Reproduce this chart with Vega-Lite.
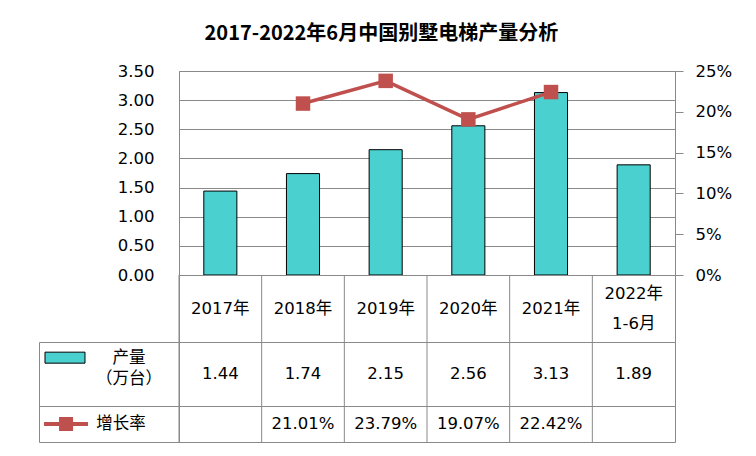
{
  "$schema": "https://vega.github.io/schema/vega-lite/v6.json",
  "padding": {"left": 38, "top": 23, "right": 10, "bottom": 10},
  "background": "white",
  "title": {"text": "2017-2022年6月中国别墅电梯产量分析", "font": "Noto Sans CJK SC", "fontSize": 20, "fontWeight": "bold", "color": "black", "anchor": "middle", "offset": 19, "dx": -4},
  "datasets": {
    "d": [
      {"year": "2017年", "output": 1.44, "growth": null},
      {"year": "2018年", "output": 1.74, "growth": 0.2101},
      {"year": "2019年", "output": 2.15, "growth": 0.2379},
      {"year": "2020年", "output": 2.56, "growth": 0.1907},
      {"year": "2021年", "output": 3.13, "growth": 0.2242},
      {"year": "2022年\n1-6月", "output": 1.89, "growth": null}
    ]
  },
  "columns": 2,
  "spacing": 0,
  "bounds": "flush",
  "align": "each",
  "config": {
    "view": {"stroke": "#898989", "strokeWidth": 1},
    "text": {"font": "DejaVu Sans, Noto Sans CJK SC", "fontSize": 16.5, "color": "black"}
  },
  "concat": [
    {
      "width": 140, "height": 204,
      "view": {"stroke": null},
      "data": {"values": [{"t": ""}]},
      "mark": {"type": "text"},
      "encoding": {"text": {"field": "t"}}
    },
    {
      "width": 496, "height": 204,
      "data": {"name": "d"},
      "encoding": {
        "x": {"field": "year", "type": "nominal", "sort": null, "axis": null, "scale": {"paddingInner": 0.6, "paddingOuter": 0.3}}
      },
      "layer": [
        {
          "mark": {"type": "bar", "fill": "#4BD0D0", "stroke": "black", "strokeWidth": 1},
          "encoding": {
            "y": {"field": "output", "type": "quantitative", "scale": {"domain": [0, 3.5]},
              "axis": {"orient": "left", "values": [0, 0.5, 1, 1.5, 2, 2.5, 3, 3.5], "format": ".2f", "title": null, "grid": true, "gridColor": "#898989", "gridOpacity": 1, "domain": false, "ticks": false, "labelPadding": 25, "labelFontSize": 16.5, "labelFont": "DejaVu Sans", "labelColor": "black"}}
          }
        },
        {
          "encoding": {
            "y": {"field": "growth", "type": "quantitative", "scale": {"domain": [0, 0.25]},
              "axis": {"orient": "right", "values": [0, 0.05, 0.1, 0.15, 0.2, 0.25], "format": ".0%", "title": null, "grid": false, "domain": false, "ticks": true, "tickSize": 8, "tickColor": "#898989", "labelPadding": 12, "labelFontSize": 16.5, "labelFont": "DejaVu Sans", "labelColor": "black"}}
          },
          "layer": [
            {"mark": {"type": "line", "color": "#C0504D", "strokeWidth": 3.5}},
            {"mark": {"type": "point", "shape": "square", "filled": true, "size": 210, "color": "#C0504D", "opacity": 1}}
          ]
        }
      ],
      "resolve": {"scale": {"y": "independent"}}
    },
    {
      "width": 140, "height": 67,
      "view": {"stroke": null},
      "data": {"values": [{"t": ""}]},
      "mark": {"type": "text"},
      "encoding": {"text": {"field": "t"}}
    },
    {
      "width": 496, "height": 67,
      "data": {"name": "d"},
      "encoding": {
        "x": {"field": "year", "type": "nominal", "sort": null, "axis": null, "scale": {"paddingInner": 0, "paddingOuter": 0}}
      },
      "layer": [
        {"mark": {"type": "rule", "color": "#898989"}, "encoding": {"x": {"field": "year", "type": "nominal", "sort": null, "bandPosition": 0}}},
        {"transform": [{"filter": "length(datum.year) <= 6"}],
         "mark": {"type": "text"},
         "encoding": {"text": {"field": "year"}}},
        {"transform": [{"filter": "length(datum.year) > 6"}],
         "mark": {"type": "text", "lineHeight": 30, "lineBreak": "\n", "dy": -15},
         "encoding": {"text": {"field": "year"}}}
      ]
    },
    {
      "width": 140, "height": 64,
      "layer": [
        {
          "data": {"values": [{"k": "a", "r": "r1"}]},
          "mark": {"type": "point", "shape": "M-1,-0.275H1V0.275H-1Z", "size": 1600, "filled": true, "fill": "#4BD0D0", "stroke": "black", "strokeWidth": 1, "opacity": 1},
          "encoding": {
            "x": {"field": "k", "type": "nominal", "axis": null, "scale": {"domain": ["a", "b"], "padding": 0.594, "align": 0.342}},
            "y": {"field": "r", "type": "nominal", "axis": null, "scale": {"domain": ["r1", "r2"], "padding": 1.184, "align": 0.367}}
          }
        },
        {
          "data": {"values": [{"k": "b", "r": "r1", "t": "产量"}, {"k": "b", "r": "r2", "t": "（万台）"}]},
          "mark": {"type": "text"},
          "encoding": {
            "x": {"field": "k", "type": "nominal", "axis": null},
            "y": {"field": "r", "type": "nominal", "axis": null},
            "text": {"field": "t"}
          }
        }
      ]
    },
    {
      "width": 496, "height": 64,
      "data": {"name": "d"},
      "encoding": {
        "x": {"field": "year", "type": "nominal", "sort": null, "axis": null, "scale": {"paddingInner": 0, "paddingOuter": 0}}
      },
      "layer": [
        {"mark": {"type": "rule", "color": "#898989"}, "encoding": {"x": {"field": "year", "type": "nominal", "sort": null, "bandPosition": 0}}},
        {"mark": {"type": "text"}, "encoding": {"text": {"field": "output", "type": "quantitative", "format": ".2f"}}}
      ]
    },
    {
      "width": 140, "height": 36,
      "layer": [
        {
          "data": {"values": [{"k": "a"}]},
          "mark": {"type": "point", "shape": "M-1,-0.09H1V0.09H-1Z", "size": 1936, "filled": true, "fill": "#C0504D", "strokeWidth": 0, "opacity": 1},
          "encoding": {
            "x": {"field": "k", "type": "nominal", "axis": null, "scale": {"domain": ["a", "b"], "padding": 0.773, "align": 0.318}}
          }
        },
        {
          "data": {"values": [{"k": "a"}]},
          "mark": {"type": "point", "shape": "square", "size": 196, "filled": true, "fill": "#C0504D", "opacity": 1},
          "encoding": {
            "x": {"field": "k", "type": "nominal", "axis": null}
          }
        },
        {
          "data": {"values": [{"k": "b", "t": "增长率"}]},
          "mark": {"type": "text"},
          "encoding": {
            "x": {"field": "k", "type": "nominal", "axis": null},
            "text": {"field": "t"}
          }
        }
      ]
    },
    {
      "width": 496, "height": 36,
      "data": {"name": "d"},
      "encoding": {
        "x": {"field": "year", "type": "nominal", "sort": null, "axis": null, "scale": {"paddingInner": 0, "paddingOuter": 0}}
      },
      "layer": [
        {"mark": {"type": "rule", "color": "#898989"}, "encoding": {"x": {"field": "year", "type": "nominal", "sort": null, "bandPosition": 0}}},
        {"mark": {"type": "text"}, "encoding": {"text": {"condition": {"test": "datum.growth == null", "value": ""}, "field": "growth", "type": "quantitative", "format": ".2%"}}}
      ]
    }
  ]
}
